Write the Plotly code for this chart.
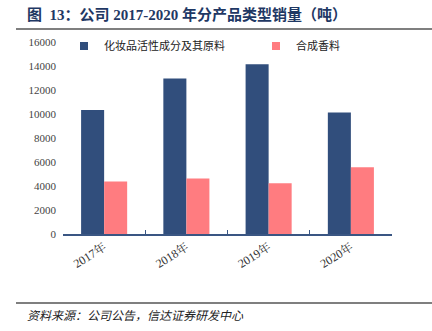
import plotly.graph_objects as go

categories = ["2017年", "2018年", "2019年", "2020年"]
series_names = ["化妆品活性成分及其原料", "合成香料"]
active_vals = [10330, 12950, 14150, 10120]
fragrance_vals = [4370, 4620, 4230, 5560]
y_ticks = [0, 2000, 4000, 6000, 8000, 10000, 12000, 14000, 16000]
colors = ["#314E7C", "#FF7C80"]

W, H = 432, 331
L, R, T, B = 63, 40, 42, 97
pw, ph = W - L - R, H - T - B

def px(x):
    return (x - L) / pw

def py(y):
    return (H - B - y) / ph

fig = go.Figure()
fig.add_trace(go.Bar(x=categories, y=active_vals, name=series_names[0], showlegend=False,
                     marker=dict(color=colors[0], line=dict(width=0))))
fig.add_trace(go.Bar(x=categories, y=fragrance_vals, name=series_names[1], showlegend=False,
                     marker=dict(color=colors[1], line=dict(width=0))))
# legend entries
fig.add_trace(go.Scatter(x=[None], y=[None], mode="markers", name=series_names[0], legend="legend",
                         marker=dict(symbol="square", size=8, color=colors[0])))
fig.add_trace(go.Scatter(x=[None], y=[None], mode="markers", name=series_names[1], legend="legend2",
                         marker=dict(symbol="square", size=8, color=colors[1])))

serif = "Liberation Serif, Noto Serif CJK SC, Noto Sans CJK SC"
legfont = dict(family="Noto Sans CJK SC", size=11, color="#222222")
fig.update_layout(
    width=W, height=H,
    margin=dict(l=L, r=R, t=T, b=B),
    paper_bgcolor="white", plot_bgcolor="white",
    barmode="group", bargap=0.44, bargroupgap=0,
    showlegend=True,
    legend=dict(x=px(64), y=py(46), xanchor="left", yanchor="middle", font=legfont,
                itemwidth=30, bgcolor="rgba(0,0,0,0)", borderwidth=0),
    legend2=dict(x=px(256), y=py(46), xanchor="left", yanchor="middle", font=legfont,
                 itemwidth=30, bgcolor="rgba(0,0,0,0)", borderwidth=0),
    xaxis=dict(showline=True, linecolor="#3A5683", linewidth=1.5,
               ticks="inside", tickson="boundaries", ticklen=4, tickcolor="#3A5683",
               tickangle=-32, tickfont=dict(family=serif, size=12, color="#333333"),
               showgrid=False),
    yaxis=dict(range=[0, 16000], tickvals=y_ticks, ticktext=[str(v) for v in y_ticks],
               showgrid=False, showline=False,
               zeroline=False, ticks="", ticklabelstandoff=6,
               tickfont=dict(family=serif, size=11, color="#444444")),
    font=dict(family=serif),
)

fig.add_annotation(xref="paper", yref="paper", x=px(25), y=py(14), xanchor="left", yanchor="middle",
                   text="<b>图  13：公司 2017-2020 年分产品类型销量（吨）</b>", showarrow=False,
                   font=dict(family="Liberation Serif, Noto Sans CJK SC", size=15, color="#1F3864"))
fig.add_annotation(xref="paper", yref="paper", x=px(25), y=py(314), xanchor="left", yanchor="middle",
                   text="<i>资料来源：公司公告，信达证券研发中心</i>", showarrow=False,
                   font=dict(family="Noto Sans CJK SC", size=12, color="#222222"))

for yy in (29, 303):
    fig.add_shape(type="line", xref="paper", yref="paper", x0=px(16), x1=px(432),
                  y0=py(yy), y1=py(yy), line=dict(color="#7F7F7F", width=2))

fig.write_html("out.html")
